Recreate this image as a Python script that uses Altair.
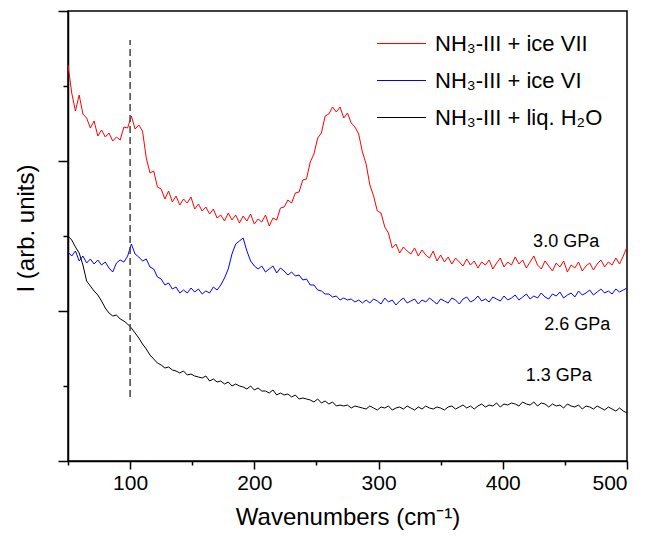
import altair as alt
import pandas as pd

# Raman shift grid (cm^-1)
wavenumbers = list(range(50, 501, 3))

# 3.0 GPa : NH3-III + ice VII (arb. units)
red_30 = [396, 368, 350, 366, 347, 343, 333, 340, 325, 331,
          324, 328, 320, 324, 321, 334, 333, 345, 332, 336,
          330, 303, 288, 290, 274, 272,
          262, 270, 259, 265, 256, 262, 258, 264, 252, 257, 250, 254, 247, 252,
          243, 246, 240, 248, 241, 246, 238, 245, 240, 247, 237, 242, 239, 246, 235, 243, 241,
          253, 254, 261, 258, 268, 269, 281, 282, 299, 307, 323, 328, 345,
          347, 354, 349, 354, 343, 348, 338, 334, 327, 309,
          297, 276, 265, 250, 248, 234, 228,
          213, 217, 208, 214, 210, 207, 213, 205, 211, 206, 203, 210, 200,
          206, 199, 204, 197, 203, 199, 195, 202, 196, 200,
          193, 199, 196, 201, 192, 198, 203, 194, 199, 196,
          204, 197, 201, 193, 199, 205, 196, 192, 200, 195,
          190, 198, 194, 200, 189, 196, 193, 199, 190, 195,
          198, 191, 197, 201, 194, 199, 196, 203, 197, 205,
          214]

# 2.6 GPa : NH3-III + ice VI
blue_26 = [209, 205, 210, 200, 205, 198, 202, 197, 201, 196,
           199, 193, 189, 198, 201, 199, 205, 217, 207, 204,
           200, 202, 194, 192, 184, 182, 176, 178, 172, 174,
           168, 171, 168, 173, 169, 172, 167, 170, 168, 174,
           171, 176, 183, 192, 207, 217, 220, 223, 210, 200,
           195, 192, 195, 189, 192, 195, 188, 193, 190, 186,
           189, 185, 186, 181, 182, 176, 176, 171, 170, 167,
           167, 164, 165, 161, 163, 161, 162, 159, 161, 158,
           161, 158, 162, 160, 157, 163, 159, 161, 156, 160,
           163, 158, 160, 162, 157, 161, 159, 163, 160, 157,
           162, 160, 158, 163, 161, 157, 162, 164, 159, 161,
           165, 160, 162, 159, 164, 162, 160, 165, 161, 163,
           166, 161, 164, 167, 162, 165, 163, 168, 164, 162,
           167, 165, 169, 163, 166, 168, 164, 170, 166, 168,
           171, 166, 169, 172, 168, 170, 167, 172, 169, 171,
           173]

# 1.3 GPa : NH3-III + liq. H2O
black_13 = [225, 221, 214, 208, 196, 180, 175, 170, 166, 160,
            153, 148, 145, 146, 142, 140, 137, 133, 128, 123,
            117, 112, 106, 102, 98, 96, 93, 94, 91, 90,
            88, 90, 86, 87, 85, 84, 83, 85, 80, 82,
            79, 80, 77, 79, 75, 77, 75, 74, 72, 75,
            71, 73, 70, 70, 68, 71, 66, 68, 66, 67,
            64, 66, 62, 63, 62, 61, 59, 62, 58, 60,
            57, 59, 55, 56, 55, 56, 53, 55, 54, 53,
            52, 55, 53, 51, 54, 53, 55, 51, 53, 54,
            52, 55, 53, 51, 54, 52, 55, 53, 52, 54,
            53, 51, 54, 55, 52, 54, 56, 53, 55, 52,
            55, 57, 54, 56, 55, 58, 54, 57, 56, 58,
            57, 55, 59, 57, 56, 59, 55, 58, 57, 54,
            57, 55, 56, 53, 57, 55, 54, 56, 52, 55,
            54, 52, 55, 53, 51, 54, 52, 50, 53, 50,
            48]

series_names = ["NH₃-III + ice VII", "NH₃-III + ice VI", "NH₃-III + liq. H₂O"]
series_colors = ["#ff0000", "#0000ff", "#000000"]

pressure_labels = ["3.0 GPa", "2.6 GPa", "1.3 GPa"]
pressure_x = [451, 460, 445]
pressure_y = [219, 136, 85]

marker_x = [100]
marker_y = [64]
marker_y2 = [421]

x_major = [100, 200, 300, 400, 500]
x_minor = [50, 150, 250, 350, 450]
y_major = [0, 150, 300, 450]
y_minor = [75, 225, 375]

FONT = "Liberation Sans"

rows = []
for name, vals in zip(series_names, [red_30, blue_26, black_13]):
    for w, v in zip(wavenumbers, vals):
        rows.append({"w": w, "I": v, "series": name})
df = pd.DataFrame(rows)

lab_df = pd.DataFrame({"x": pressure_x, "y": pressure_y, "t": pressure_labels})
mk_df = pd.DataFrame({"x": marker_x, "y": marker_y, "y2": marker_y2})

xscale = alt.Scale(domain=[50, 500], nice=False, zero=False)
yscale = alt.Scale(domain=[0, 450], nice=False, zero=False)

lines = alt.Chart(df).mark_line(strokeWidth=1).encode(
    x=alt.X("w:Q", scale=xscale,
            axis=alt.Axis(values=x_major, tickSize=8, labelFontSize=21,
                          labelPadding=3, title="Wavenumbers (cm⁻¹)",
                          titleFontSize=24, titleY=63, titleBaseline="alphabetic",
                          orient="bottom")),
    y=alt.Y("I:Q", scale=yscale,
            axis=alt.Axis(values=y_major, tickSize=10, labels=False,
                          title="I (arb. units)", titleFontSize=24,
                          titleX=-35, titleY=217, titleAngle=270,
                          titleAlign="center", titleBaseline="alphabetic",
                          orient="left")),
    color=alt.Color("series:N",
                    scale=alt.Scale(domain=series_names, range=series_colors),
                    sort=series_names,
                    legend=alt.Legend(title=None, orient="none", legendX=308, legendY=7,
                                      symbolType="stroke", symbolSize=2401,
                                      symbolStrokeWidth=1.2, labelFontSize=22,
                                      labelFont=FONT, labelLimit=0, labelOffset=8,
                                      rowPadding=-16, padding=0)),
)

marker = alt.Chart(mk_df).mark_rule(strokeDash=[7, 4], strokeWidth=1.5, color="#444444").encode(
    x=alt.X("x:Q", scale=xscale,
            axis=alt.Axis(values=x_minor, tickSize=4, labels=False, domain=False,
                          title=None, orient="bottom")),
    y=alt.Y("y:Q", scale=yscale,
            axis=alt.Axis(values=y_minor, tickSize=5, labels=False, domain=False,
                          title=None, orient="left")),
    y2="y2:Q",
)

texts = alt.Chart(lab_df).mark_text(fontSize=18, font=FONT, color="black",
                                    align="center", baseline="middle").encode(
    x=alt.X("x:Q", scale=xscale, axis=None),
    y=alt.Y("y:Q", scale=yscale, axis=None),
    text="t:N",
)

chart = alt.layer(lines, marker, texts).resolve_axis(
    x="independent", y="independent"
).properties(
    width=559, height=450,
    padding={"left": 60, "top": 3, "right": 13, "bottom": 76},
    autosize=alt.AutoSizeParams(type="none"),
).configure_view(
    stroke="black", strokeWidth=1.5
).configure_axis(
    grid=False, domainColor="black", domainWidth=1.5, tickColor="black",
    tickWidth=1.5, labelFont=FONT, titleFont=FONT, labelColor="black",
    titleColor="black", titleFontWeight="normal"
)

chart.save("out.html", embed_options={"renderer": "svg", "actions": False})
